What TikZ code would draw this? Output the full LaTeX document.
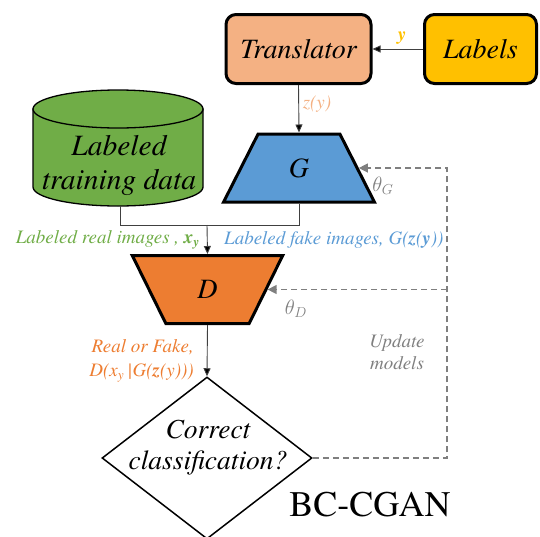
\documentclass[tikz,border=0pt]{standalone}
\usepackage{fontspec}
\setmainfont{TeX Gyre Termes}
\usetikzlibrary{shapes.geometric,arrows.meta}
\definecolor{cSalmon}{HTML}{F4B183}
\definecolor{cGold}{HTML}{FFC000}
\definecolor{cGreen}{HTML}{70AD47}
\definecolor{cBlue}{HTML}{5B9BD5}
\definecolor{cOrange}{HTML}{ED7D31}
\definecolor{cGray}{HTML}{7F7F7F}
\definecolor{cLine}{HTML}{404040}
\begin{document}
\begin{tikzpicture}[x=1pt,y=-1pt,
  bigtext/.style={font=\fontsize{28}{32}\selectfont\itshape},
  rbox/.style={draw=black, line width=3pt, rounded corners=10pt, minimum height=69pt, inner sep=0pt, bigtext},
  trap/.style={trapezium, trapezium stretches=true, draw=black, line width=3pt, inner sep=0pt, minimum height=68pt, minimum width=151pt, trapezium angle=66, bigtext},
  lbl/.style={font=\fontsize{19}{23}\selectfont\itshape, inner sep=1pt},
  conn/.style={draw=cLine, line width=0.9pt, -{Triangle[length=8pt,width=7pt,fill=black]}},
  plain/.style={draw=cLine, line width=0.9pt},
  fb/.style={draw=cGray, line width=1.3pt, dash pattern=on 6pt off 4pt},
  fbarrow/.style={fb, -{Triangle[length=9pt,width=9pt,fill=cGray]}}
]
\useasboundingbox (0,0) rectangle (540,536);

% boxes
\node[rbox, fill=cSalmon, minimum width=145pt] (tr) at (298.5,49) {Translator};
\node[rbox, fill=cGold, minimum width=112pt] (lab) at (480.5,49) {Labels};

% generator and discriminator
\node[trap, fill=cBlue] (G) at (299,168) {G};
\node[trap, fill=cOrange, shape border rotate=180] (D) at (207.5,289.5) {D};

% cylinder
\filldraw[fill=cGreen, draw=black, line width=1.3pt]
  (33,109) -- (33,187) arc[start angle=180, end angle=0, x radius=85, y radius=19] -- (203,109) -- cycle;
\filldraw[fill=cGreen, draw=black, line width=1.3pt] (118,109) ellipse[x radius=85, y radius=19];
\node[align=center, font=\fontsize{29.5}{34}\selectfont\itshape] (cyl) at (119,165) {Labeled\\training data};
\coordinate (cylb) at (120,206);

% diamond
\node[diamond, draw=black, line width=1.5pt, minimum width=210pt, minimum height=162pt, inner sep=0pt] (dia) at (207,458) {};
\node[align=center, font=\fontsize{27.5}{31}\selectfont\itshape] (diat) at (208,448) {Correct\\classification?};

% connectors
\draw[conn] (lab.west) -- (tr.east);
\draw[conn] (tr.south) -- (G.north);
\coordinate (jn) at (207,225);
\draw[plain] (cylb) -- (cylb |- jn) -- (G.south |- jn) -- (G.south);
\draw[conn] (jn) -- (D.north);
\draw[conn] (D.south) -- (dia.north);

% feedback
\coordinate (fbx) at (447,0);
\draw[fbarrow] (dia.east) -- (dia.east -| fbx) -- (G.east -| fbx) -- (G.east);
\draw[fbarrow] (D.east -| fbx) -- (D.east);

% labels
\node[lbl, text=cGold, font=\fontsize{19}{23}\selectfont\itshape\bfseries] (ylab) at (402,38) {y};
\node[lbl, text=cSalmon] (zlab) at (317,104) {z(y)};
\node[lbl, text=cGray, font=\fontsize{20}{24}\selectfont] (thG) at (383,186) {$\theta_G$};
\node[lbl, text=cGray, font=\fontsize{20}{24}\selectfont] (thD) at (296,309) {$\theta_D$};
\node[lbl, text=cGreen, anchor=east] (real) at (201,240) {Labeled real images , \textbf{x}\textsubscript{\textbf{y}}};
\node[lbl, text=cBlue, anchor=west] (fake) at (223,240) {Labeled fake images, G(\textbf{z}(\textbf{y}))};
\node[lbl, text=cOrange, anchor=east, align=right, font=\fontsize{19}{24}\selectfont\itshape] (rf) at (195,361) {Real or Fake,\\D(x\textsubscript{y}\,|G(\textbf{z}(y)))};
\node[lbl, text=cGray, align=center, font=\fontsize{19}{22}\selectfont\itshape] (upd) at (397,352) {Update\\models};
\node[font=\fontsize{36}{40}\selectfont, inner sep=0pt] (bc) at (370,505) {BC-CGAN};
\end{tikzpicture}
\end{document}
